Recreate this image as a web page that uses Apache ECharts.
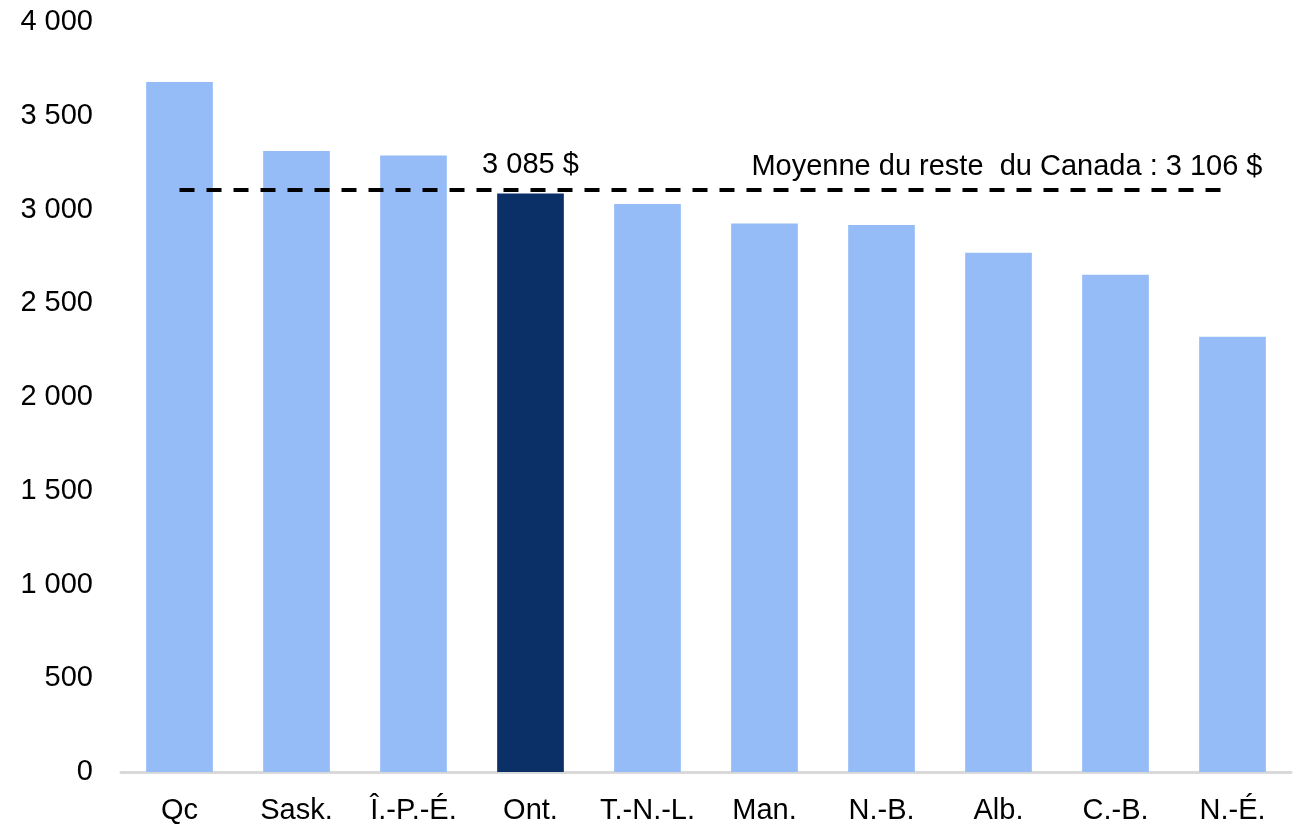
<!DOCTYPE html>
<html>
<head>
<meta charset="utf-8">
<script src="https://cdn.jsdelivr.net/npm/echarts@6/dist/echarts.min.js"></script>
<style>
  html, body { margin: 0; padding: 0; background: #fff; }
  #chart { width: 1302px; height: 825px; }
</style>
</head>
<body>
<div id="chart"></div>
<script>
const categories = ['Qc', 'Sask.', 'Î.-P.-É.', 'Ont.', 'T.-N.-L.', 'Man.', 'N.-B.', 'Alb.', 'C.-B.', 'N.-É.'];
const values = [3680, 3312, 3288, 3085, 3030, 2925, 2918, 2770, 2652, 2322];
const highlight = 'Ont.';
const average = 3106;
const averageLabel = 'Moyenne du reste  du Canada : 3 106 $';

const font = 'Liberation Sans, Arial, sans-serif';
const fmt = v => String(v).replace(/\B(?=(\d{3})+(?!\d))/g, ' ');

const chart = echarts.init(document.getElementById('chart'));

chart.setOption({
  animation: false,
  grid: { left: 121, right: 11, top: 22, bottom: 53 },
  xAxis: {
    type: 'category',
    data: categories,
    axisLine: { lineStyle: { color: '#d9d9d9', width: 3 } },
    axisTick: { show: false },
    axisLabel: { interval: 0, color: '#000', fontSize: 29, fontFamily: font, margin: 24 }
  },
  yAxis: {
    type: 'value',
    min: 0,
    max: 4000,
    interval: 500,
    splitLine: { show: false },
    axisLine: { show: false },
    axisTick: { show: false },
    axisLabel: { color: '#000', fontSize: 29, fontFamily: font, margin: 28, formatter: fmt }
  },
  series: [{
    type: 'bar',
    barWidth: '57%',
    data: values.map((v, i) => {
      if (categories[i] !== highlight) return { value: v, itemStyle: { color: '#95bcf7' } };
      return {
        value: v,
        itemStyle: { color: '#0b3068' },
        label: {
          show: true,
          position: 'top',
          distance: 14,
          color: '#000',
          fontSize: 29,
          fontFamily: font,
          formatter: p => fmt(p.value) + ' $'
        }
      };
    }),
    markLine: {
      silent: true,
      symbol: 'none',
      lineStyle: { color: '#000', width: 4, type: [15, 12] },
      label: {
        show: true,
        position: 'insideEndTop',
        formatter: averageLabel,
        color: '#000',
        fontSize: 29,
        fontFamily: font,
        distance: 8,
        offset: [38, 0]
      },
      data: [[
        { coord: [categories[0], average] },
        { coord: [categories[categories.length - 1], average] }
      ]]
    }
  }]
});
</script>
</body>
</html>
